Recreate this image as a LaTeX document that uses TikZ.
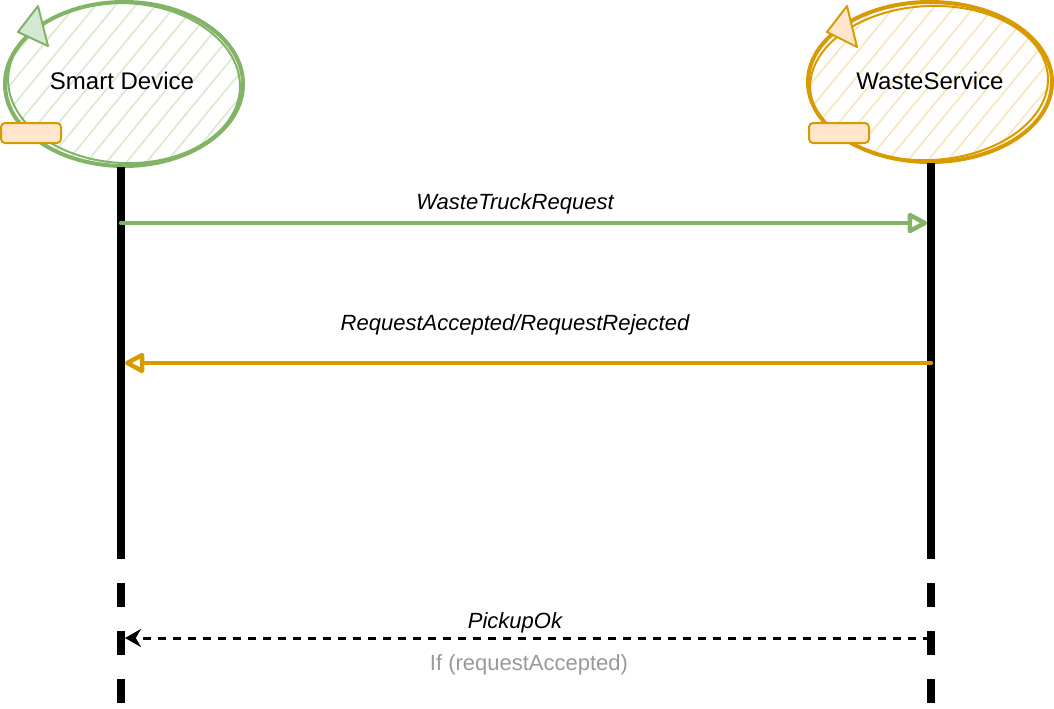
\documentclass[tikz,border=0pt]{standalone}
\usepackage{fontspec}
\setmainfont{Liberation Sans}
\usetikzlibrary{arrows.meta}

\definecolor{greenline}{HTML}{82B366}
\definecolor{greenfill}{HTML}{D5E8D4}
\definecolor{orangeline}{HTML}{D79B00}
\definecolor{orangefill}{HTML}{FFE6CC}
\definecolor{noteGray}{HTML}{999999}

\begin{document}
\begin{tikzpicture}[x=0.5pt,y=-0.5pt,
  lifeline/.style={line width=3.6pt, black},
  actorname/.style={font=\fontsize{12}{14}\selectfont},
  msgname/.style={font=\fontsize{11}{13}\selectfont\itshape},
  actortag/.style={draw=orangeline, fill=orangefill, line width=1pt, rounded corners=2pt},
  msg/.style={line width=2.2pt, line cap=round, shorten >=2pt,
    -{Triangle[open,length=11pt,width=11pt,round]}},
]

\useasboundingbox (0,0) rectangle (1054,708);

% Draw the Smart Device actor
\begin{scope}
\clip (124,84) ellipse [x radius=119, y radius=82];
\foreach \i in {-180,-160,...,260}
  \draw [greenline, opacity=0.3, line width=0.8pt] (\i,170) -- (\i+140,0);
\end{scope}
\draw [greenline, line width=2pt] (124,84) ellipse [x radius=119, y radius=82];
\draw [greenline, line width=1pt, rotate around={-3:(124,84)}] (124,83) ellipse [x radius=116, y radius=80];
\filldraw [draw=greenline, fill=greenfill, line width=1pt, line join=round] (38,6) -- (18,32) -- (48,46) -- cycle;
\draw [actortag] (1,123) rectangle (61,143);
\node [actorname] (sd) at (122,81) {Smart Device};

% Draw the WasteService actor
\begin{scope}
\clip (930,82) ellipse [x radius=122, y radius=80];
\foreach \i in {620,640,...,1080}
  \draw [orangeline, opacity=0.25, line width=0.8pt] (\i,170) -- (\i+140,0);
\end{scope}
\draw [orangeline, line width=2pt] (930,82) ellipse [x radius=122, y radius=80];
\draw [orangeline, line width=1pt, rotate around={3:(930,82)}] (929,83) ellipse [x radius=119, y radius=77];
\filldraw [draw=orangeline, fill=orangefill, line width=1pt, line join=round] (847,6) -- (827,32) -- (857,47) -- cycle;
\draw [actortag] (809,123) rectangle (869,143);
\node [actorname] (ws) at (930,81) {WasteService};

% Lifelines
\coordinate (sdTop) at (121,167);
\coordinate (sdCut) at (121,541);
\coordinate (sdDash) at (121,535);
\coordinate (sdEnd) at (121,708);
\coordinate (wsTop) at (931,163);
\coordinate (wsCut) at (931,541);
\coordinate (wsDash) at (931,535);
\coordinate (wsEnd) at (931,708);

\draw [lifeline] (sdTop) -- (sdCut);
\draw [lifeline] (wsTop) -- (wsCut);
\draw [lifeline, dash pattern=on 12pt off 12pt] (sdDash) -- (sdEnd);
\draw [lifeline, dash pattern=on 12pt off 12pt] (wsDash) -- (wsEnd);

% Messages
\coordinate (sdReq) at (121,223);
\coordinate (wsReq) at (931,223);
\coordinate (sdAns) at (121,363);
\coordinate (wsAns) at (931,363);
\coordinate (sdPick) at (121,638);
\coordinate (wsPick) at (931,638);

\draw [msg, greenline] (sdReq) -- (wsReq);
\node [msgname] (reqLbl) at (515,204) {WasteTruckRequest};

\draw [msg, orangeline] (wsAns) -- (sdAns);
\node [msgname] (ansLbl) at (515,325) {RequestAccepted/RequestRejected};

\draw [line width=1.5pt, dash pattern=on 4pt off 3.5pt, shorten >=2pt,
  -{Stealth[length=8pt,width=9pt]}] (wsPick) -- (sdPick);
\node [msgname] (pickLbl) at (515,623) {PickupOk};
\node [font=\fontsize{11}{13}\selectfont, text=noteGray] (condLbl) at (529,665) {If (requestAccepted)};

\end{tikzpicture}
\end{document}
